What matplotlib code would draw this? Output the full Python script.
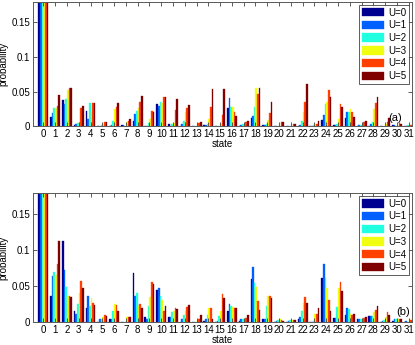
import numpy as np
import matplotlib
matplotlib.use("Agg")
import matplotlib.pyplot as plt

plt.rcParams["font.family"] = ["Liberation Sans", "DejaVu Sans"]

states = list(range(32))
labels = ["U=0", "U=1", "U=2", "U=3", "U=4", "U=5"]

# panel (a)
a_u0 = [0.30, 0.013, 0.038, 0.0015, 0.022, 0.001, 0.001, 0.002, 0.008, 0.001, 0.032, 0.003, 0.001, 0.001, 0.002, 0.001,
        0.027, 0.001, 0.012, 0.002, 0.001, 0.000, 0.001, 0.001, 0.009, 0.002, 0.012, 0.001, 0.001, 0.000, 0.002, 0.000]
a_u1 = [0.30, 0.019, 0.032, 0.004, 0.010, 0.001, 0.002, 0.002, 0.018, 0.001, 0.029, 0.001, 0.003, 0.001, 0.002, 0.001,
        0.041, 0.002, 0.015, 0.002, 0.001, 0.001, 0.002, 0.001, 0.016, 0.002, 0.021, 0.002, 0.004, 0.001, 0.002, 0.001]
a_u2 = [0.30, 0.026, 0.039, 0.005, 0.033, 0.002, 0.007, 0.001, 0.022, 0.005, 0.035, 0.003, 0.008, 0.001, 0.003, 0.001,
        0.028, 0.003, 0.028, 0.004, 0.001, 0.001, 0.008, 0.002, 0.032, 0.004, 0.021, 0.002, 0.006, 0.001, 0.001, 0.002]
a_u3 = [0.30, 0.026, 0.053, 0.006, 0.021, 0.002, 0.025, 0.006, 0.026, 0.011, 0.033, 0.005, 0.021, 0.004, 0.010, 0.003,
        0.028, 0.003, 0.055, 0.009, 0.001, 0.001, 0.020, 0.004, 0.035, 0.010, 0.025, 0.001, 0.025, 0.004, 0.001, 0.001]
a_u4 = [0.30, 0.029, 0.055, 0.027, 0.033, 0.006, 0.028, 0.008, 0.035, 0.022, 0.043, 0.023, 0.026, 0.005, 0.028, 0.016,
        0.021, 0.006, 0.047, 0.019, 0.006, 0.003, 0.035, 0.004, 0.052, 0.032, 0.020, 0.006, 0.033, 0.006, 0.005, 0.002]
a_u5 = [0.30, 0.045, 0.055, 0.030, 0.033, 0.006, 0.033, 0.010, 0.044, 0.020, 0.042, 0.039, 0.031, 0.006, 0.054, 0.054,
        0.015, 0.008, 0.056, 0.035, 0.006, 0.003, 0.061, 0.007, 0.043, 0.028, 0.014, 0.008, 0.042, 0.012, 0.004, 0.002]

# panel (b)
b_u0 = [0.30, 0.037, 0.113, 0.015, 0.020, 0.001, 0.004, 0.001, 0.069, 0.007, 0.045, 0.007, 0.001, 0.001, 0.002, 0.001,
        0.016, 0.002, 0.060, 0.005, 0.001, 0.001, 0.004, 0.001, 0.061, 0.006, 0.010, 0.004, 0.008, 0.001, 0.002, 0.001]
b_u1 = [0.30, 0.065, 0.073, 0.012, 0.036, 0.005, 0.005, 0.001, 0.037, 0.005, 0.048, 0.007, 0.004, 0.001, 0.005, 0.002,
        0.025, 0.004, 0.077, 0.005, 0.002, 0.002, 0.007, 0.001, 0.081, 0.006, 0.020, 0.004, 0.008, 0.002, 0.004, 0.002]
b_u2 = [0.30, 0.070, 0.049, 0.026, 0.022, 0.004, 0.016, 0.001, 0.040, 0.023, 0.037, 0.014, 0.010, 0.001, 0.010, 0.008,
        0.023, 0.004, 0.055, 0.023, 0.003, 0.003, 0.015, 0.002, 0.061, 0.021, 0.018, 0.005, 0.008, 0.003, 0.005, 0.001]
b_u3 = [0.30, 0.066, 0.036, 0.040, 0.034, 0.007, 0.025, 0.007, 0.023, 0.035, 0.031, 0.015, 0.015, 0.003, 0.020, 0.016,
        0.021, 0.004, 0.049, 0.036, 0.004, 0.003, 0.027, 0.011, 0.047, 0.047, 0.012, 0.005, 0.014, 0.007, 0.005, 0.004]
b_u4 = [0.30, 0.081, 0.037, 0.058, 0.027, 0.010, 0.024, 0.007, 0.025, 0.056, 0.016, 0.020, 0.021, 0.004, 0.020, 0.039,
        0.020, 0.006, 0.029, 0.037, 0.003, 0.003, 0.035, 0.011, 0.031, 0.056, 0.010, 0.006, 0.017, 0.014, 0.004, 0.003]
b_u5 = [0.30, 0.113, 0.035, 0.048, 0.024, 0.009, 0.016, 0.007, 0.020, 0.053, 0.023, 0.018, 0.024, 0.010, 0.005, 0.034,
        0.020, 0.010, 0.017, 0.034, 0.002, 0.003, 0.027, 0.020, 0.016, 0.043, 0.012, 0.007, 0.022, 0.010, 0.004, 0.002]

colors = ["#000090", "#0060ff", "#20ffe0", "#f0ff10", "#ff4000", "#800000"]


def draw(ax, series, tag, tag_x, tag_y):
    x = np.array(states)
    w = 0.14
    for i, vals in enumerate(series):
        ax.bar(x + (i - 2.5) * w, vals, w, color=colors[i], edgecolor=colors[i],
               linewidth=0.25, label=labels[i])
    ax.set_xlim(-0.88, 31.27)
    ax.set_ylim(0, 0.18)
    ax.set_xticks(states)
    ax.set_yticks([0, 0.05, 0.1, 0.15])
    ax.set_yticklabels(["0", "0.05", "0.1", "0.15"])
    ax.tick_params(direction="in", length=3, width=0.6, top=True, right=True,
                   labelsize=7, pad=2, colors="0.25", labelcolor="black")
    for s in ax.spines.values():
        s.set_color("0.35")
        s.set_linewidth(0.7)
    ax.set_xlabel("state", fontsize=7, labelpad=0)
    ax.set_ylabel("probability", fontsize=7, labelpad=2)
    leg = ax.legend(loc="upper right", fontsize=7, frameon=True, fancybox=False,
                    handlelength=2.3, handleheight=0.95, labelspacing=0.28,
                    handletextpad=0.4, borderpad=0.3, borderaxespad=0.3)
    leg.get_frame().set_edgecolor("0.2")
    leg.get_frame().set_linewidth(0.7)
    ax.text(tag_x, tag_y, tag, transform=ax.transAxes, fontsize=8, ha="center", va="center")


fig = plt.figure(figsize=(4.15, 3.45), dpi=100)
ax_a = fig.add_axes([0.0795, 0.634, 0.913, 0.361])
ax_b = fig.add_axes([0.0795, 0.066, 0.913, 0.375])

draw(ax_a, [a_u0, a_u1, a_u2, a_u3, a_u4, a_u5], "(a)", 0.955, 0.07)
draw(ax_b, [b_u0, b_u1, b_u2, b_u3, b_u4, b_u5], "(b)", 0.976, 0.08)

fig.savefig("out.png", dpi=100)
